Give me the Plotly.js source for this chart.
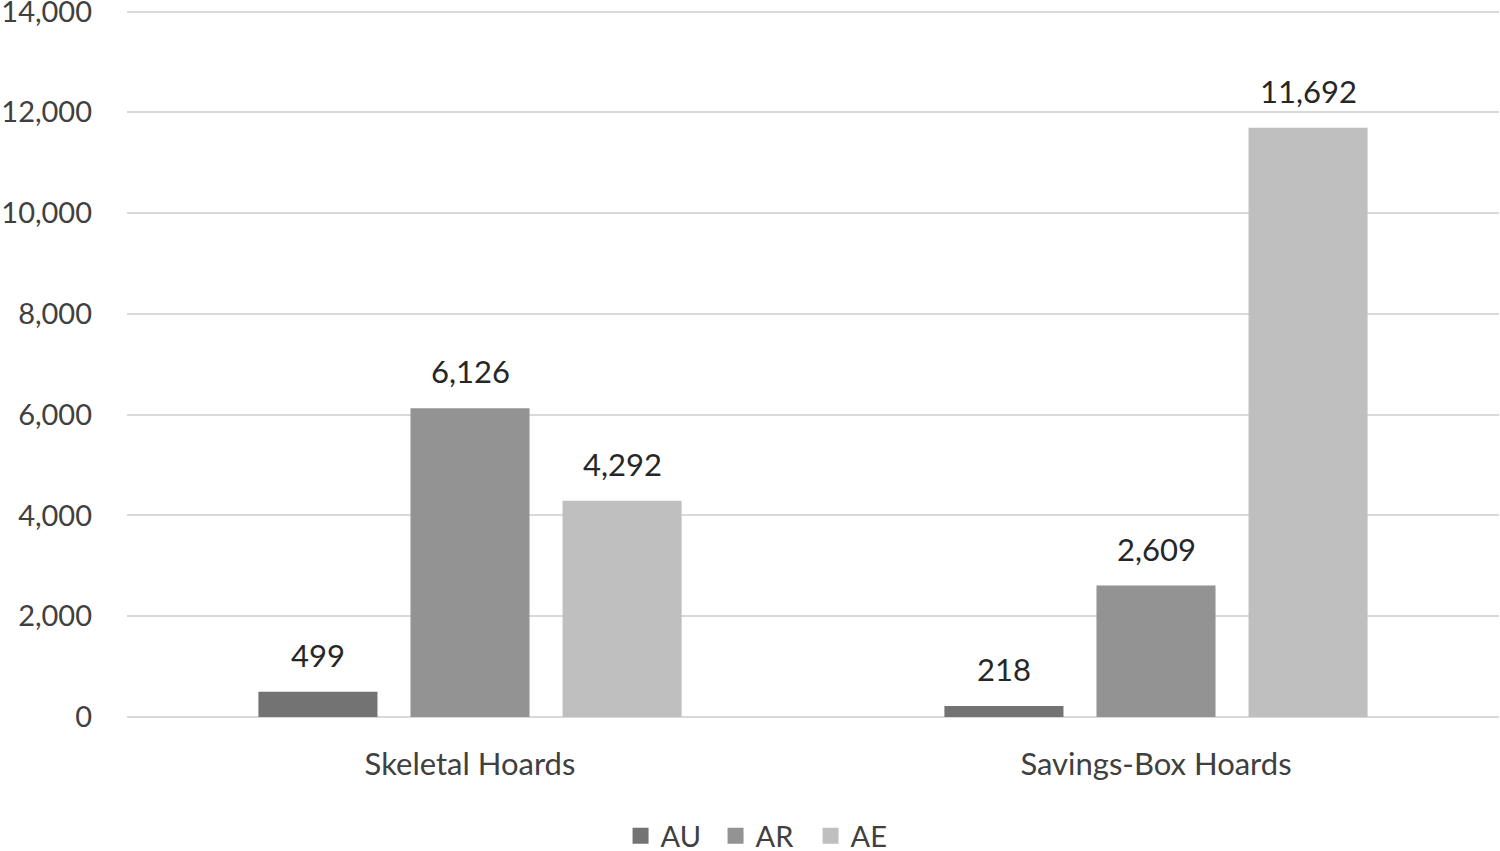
<!DOCTYPE html>
<html>
<head>
<meta charset="utf-8">
<script src="https://cdn.plot.ly/plotly-3.0.1.min.js"></script>
<style>html,body{margin:0;padding:0;background:#fff;}#chart{width:1500px;height:851px;}</style>
</head>
<body>
<div id="chart"></div>
<script>
const categories = ["Skeletal Hoards", "Savings-Box Hoards"];
const seriesNames = ["AU", "AR", "AE"];
const AU = [499, 218];
const AR = [6126, 2609];
const AE = [4292, 11692];
const colors = ["#737373", "#939393", "#bfbfbf"];
const seriesValues = [AU, AR, AE];
const yTicks = [0, 2000, 4000, 6000, 8000, 10000, 12000, 14000];
const FONT = "Lato, 'Open Sans', sans-serif";
const FS = 31;

const traces = seriesValues.map((vals, i) => ({
  type: "bar",
  name: seriesNames[i],
  x: categories,
  y: vals,
  marker: {color: colors[i], line: {width: 0}},
  showlegend: false,
  hoverinfo: "skip"
}));

// legend entries (square swatches)
seriesNames.forEach((n, i) => {
  traces.push({
    type: "scatter", mode: "markers", name: n,
    x: [null], y: [null],
    marker: {symbol: "square", size: 18, color: colors[i]},
    showlegend: true, hoverinfo: "skip"
  });
});

const slot = 152;
const annotations = [];
seriesValues.forEach((vals, i) => {
  vals.forEach((v, j) => {
    annotations.push({
      x: categories[j], y: v, xref: "x", yref: "y",
      text: v.toLocaleString("en-US"),
      showarrow: false,
      xshift: (i - 1) * slot,
      yanchor: "bottom",
      yshift: 16,
      font: {family: FONT, size: FS, color: "#262626"}
    });
  });
});

const layout = {
  width: 1500, height: 851,
  margin: {l: 127, r: 1, t: 10, b: 134, autoexpand: false},
  paper_bgcolor: "#fff", plot_bgcolor: "#fff",
  barmode: "group",
  bargap: 0.335,
  bargroupgap: 0.217,
  font: {family: FONT, size: FS, color: "#404040"},
  showlegend: true,
  legend: {orientation: "h", x: 0.4636, xanchor: "center", y: -0.168, yanchor: "middle",
           entrywidth: 50, entrywidthmode: "pixels",
           font: {family: FONT, size: 29, color: "#404040"}, itemwidth: 30, tracegroupgap: 0},
  xaxis: {type: "category", showgrid: false, zeroline: false, showline: false, ticks: "",
          ticklabelstandoff: 26, tickfont: {family: FONT, size: FS, color: "#404040"}},
  yaxis: {range: [0, 14030], tickvals: yTicks, tickformat: ",d", ticklabeloverflow: "allow",
          showgrid: true, gridcolor: "#d9d9d9",
          gridwidth: 2, zeroline: true, zerolinecolor: "#d9d9d9", zerolinewidth: 2, showline: false,
          ticks: "", ticklabelstandoff: 34, tickfont: {family: FONT, size: 29, color: "#404040"}},
  annotations: annotations
};

Plotly.newPlot("chart", traces, layout, {displayModeBar: false, staticPlot: true});
</script>
</body>
</html>
